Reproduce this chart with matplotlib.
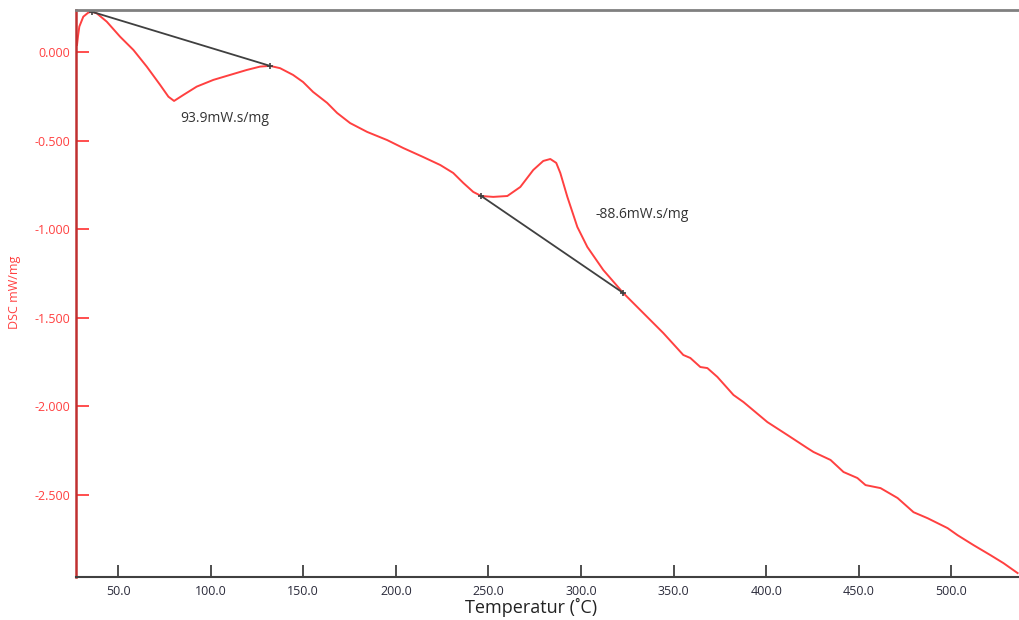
import matplotlib
matplotlib.use("Agg")
import matplotlib.pyplot as plt

plt.rcParams['font.family'] = ['Open Sans', 'DejaVu Sans']

# DSC curve (temperature in degC, DSC in mW/mg)
temp = [27.85, 28.4, 29.1, 31.25, 33.95, 35.8, 38.5, 43.9, 51.1, 58.3,
        65.5, 72.7, 77.2, 80.25, 85.3, 92.5, 101.5, 110.5, 119.5, 126.7,
        132.1, 137.5, 144.5, 149.9, 155.3, 162.9, 168.3, 175.3, 184.5, 195.3,
        204.0, 214.8, 224.0, 231.0, 236.4, 241.8, 246.1, 252.6, 260.2, 267.2,
        274.2, 279.6, 283.4, 286.6, 288.8, 292.6, 298.0, 303.4, 312.0, 322.8,
        333.6, 344.4, 355.2, 359.0, 364.4, 368.2, 373.6, 382.3, 387.7, 400.6,
        411.4, 422.2, 425.5, 434.7, 441.7, 449.2, 453.6, 461.7, 470.9, 479.5,
        487.1, 497.9, 503.3, 511.9, 521.1, 528.1, 535.7]
dsc = [0.041, 0.092, 0.145, 0.201, 0.224, 0.229, 0.220, 0.173, 0.088, 0.013,
       -0.081, -0.184, -0.251, -0.275, -0.241, -0.194, -0.156, -0.128, -0.100, -0.081,
       -0.077, -0.090, -0.128, -0.168, -0.224, -0.286, -0.343, -0.400, -0.450, -0.496,
       -0.541, -0.592, -0.637, -0.682, -0.738, -0.789, -0.812, -0.817, -0.812, -0.761,
       -0.665, -0.614, -0.603, -0.625, -0.682, -0.817, -0.987, -1.100, -1.230, -1.360,
       -1.473, -1.586, -1.710, -1.727, -1.778, -1.784, -1.834, -1.936, -1.976, -2.089,
       -2.162, -2.236, -2.258, -2.303, -2.371, -2.405, -2.445, -2.462, -2.518, -2.598,
       -2.632, -2.688, -2.728, -2.784, -2.841, -2.886, -2.942]

# integration baselines
base1_t = [35.8, 132.1]
base1_d = [0.229, -0.077]
base2_t = [246.1, 322.8]
base2_d = [-0.812, -1.360]

peak_labels = ["93.9mW.s/mg", "-88.6mW.s/mg"]
label_pos = [(107.8, -0.372), (333.1, -0.919)]

xticks = [50, 100, 150, 200, 250, 300, 350, 400, 450, 500]
yticks = [0.0, -0.5, -1.0, -1.5, -2.0, -2.5]

red = '#ff4040'
grey = '#333333'

fig = plt.figure(figsize=(10.2, 6.2), dpi=100)
ax = fig.add_axes([0.0745, 0.0694, 0.9255, 0.9137])

ax.plot(temp, dsc, color=red, lw=1.4)
ax.plot(base1_t, base1_d, color='#404040', lw=1.3, marker='+', ms=5, mew=1.2)
ax.plot(base2_t, base2_d, color='#404040', lw=1.3, marker='+', ms=5, mew=1.2)

for txt, (tx, ty) in zip(peak_labels, label_pos):
    ax.text(tx, ty, txt, fontsize=10, color=grey, ha='center', va='center')

ax.set_xlim(27.3, 537)
ax.set_ylim(-2.964, 0.236)
ax.set_xticks(xticks)
ax.set_xticklabels([f"{v:.1f}" for v in xticks])
ax.set_yticks(yticks)
ax.set_yticklabels([f"{v:.3f}" for v in yticks])

ax.tick_params(axis='x', direction='in', length=9, width=1.3, color='#404040',
               labelsize=9, labelcolor='#2b2b3b', pad=6)
ax.tick_params(axis='y', direction='in', length=9, width=1.3, color=red,
               labelsize=9, labelcolor=red, pad=4)

ax.spines['right'].set_visible(False)
ax.spines['left'].set_color('#c03030')
ax.spines['left'].set_linewidth(1.8)
ax.spines['bottom'].set_color('#404040')
ax.spines['bottom'].set_linewidth(1.5)
ax.spines['top'].set_color('#808080')
ax.spines['top'].set_linewidth(2)

fig.text(15 / 1020, 1 - 292 / 620, "DSC mW/mg", rotation=90, color=red,
         fontsize=9, ha='center', va='center')
fig.text(531 / 1020, 1 - 607 / 620, "Temperatur (\u02daC)", color='#222222',
         fontsize=13, ha='center', va='center')

fig.savefig("out.png", dpi=100)
